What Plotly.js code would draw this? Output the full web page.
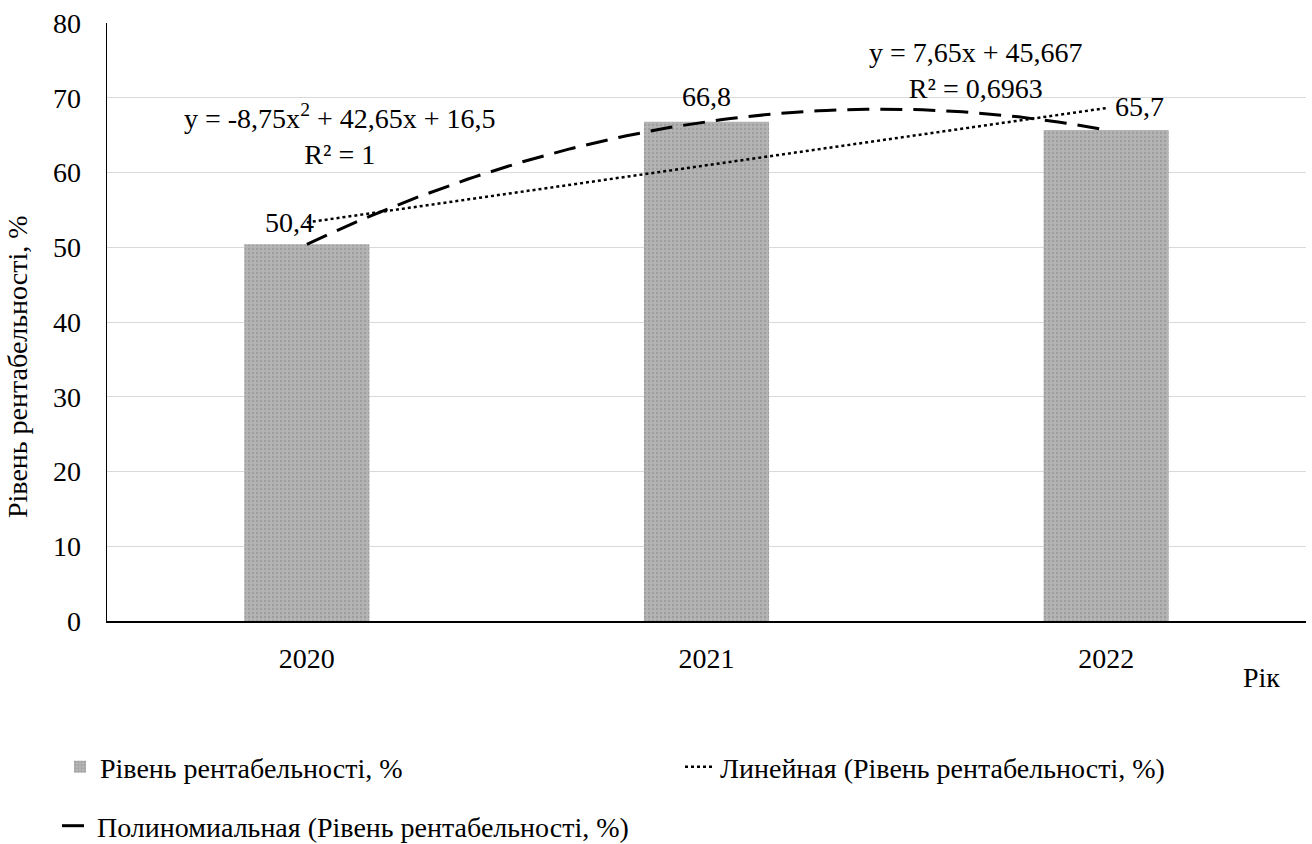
<!DOCTYPE html>
<html>
<head>
<meta charset="utf-8">
<script src="https://cdn.plot.ly/plotly-3.0.1.min.js"></script>
<style>
  html, body { margin: 0; padding: 0; background: #fff; }
  #chart { width: 1312px; height: 844px; }
</style>
</head>
<body>
<div id="chart"></div>
<script>
// Profitability level by year, with linear and polynomial trendlines
const categories = ['2020', '2021', '2022'];
const profitability = [50.4, 66.8, 65.7];

// Trendline coefficients (lowest power first) and R² values
const linearCoef = [45.667, 7.65];
const linearR2 = 0.6963;
const polyCoef = [16.5, 42.65, -8.75];
const polyR2 = 1;

const seriesName = 'Рівень рентабельності, %';
const linearName = 'Линейная (Рівень рентабельності, %)';
const polyName = 'Полиномиальная (Рівень рентабельності, %)';
const yTitle = 'Рівень рентабельності, %';
const xTitle = 'Рік';

const FONT = 'Liberation Serif';
const FS = 28;

// bars sit at category positions 1..n so trendlines share the same x scale
const xPos = categories.map((_, i) => i + 1);

const comma = v => String(v).replace('.', ',');
const evalPoly = (coef, x) => coef.reduce((s, c, k) => s + c * Math.pow(x, k), 0);

// sample the trendline equations across the category span
const trendX = [];
for (let x = xPos[0]; x <= xPos[xPos.length - 1] + 1e-9; x += 0.02) trendX.push(+x.toFixed(4));
const linearY = trendX.map(x => evalPoly(linearCoef, x));
const polyY = trendX.map(x => evalPoly(polyCoef, x));

const signed = v => (v < 0 ? '- ' : '+ ') + comma(Math.abs(v));
const linearEq = 'y = ' + comma(linearCoef[1]) + 'x ' + signed(linearCoef[0]) +
  '<br>R² = ' + comma(linearR2);
const polyEq = 'y = ' + comma(polyCoef[2]) + 'x<sup>2</sup> ' + signed(polyCoef[1]) + 'x ' +
  signed(polyCoef[0]) + '<br>R² = ' + comma(polyR2);

const traces = [
  {
    type: 'bar',
    name: seriesName,
    x: xPos,
    y: profitability,
    width: 0.313,
    marker: {
      color: '#b0b0b0',
      pattern: { shape: '.', fgcolor: '#9c9c9c', bgcolor: '#b4b4b4', size: 4, solidity: 0.25 },
      line: { width: 0 }
    },
    hoverinfo: 'skip',
    legend: 'legend'
  },
  {
    type: 'scatter',
    mode: 'lines',
    name: linearName,
    x: trendX,
    y: linearY,
    line: { color: '#000', width: 2.5, dash: 'dot' },
    hoverinfo: 'skip',
    legend: 'legend2'
  },
  {
    type: 'scatter',
    mode: 'lines',
    name: polyName,
    x: trendX,
    y: polyY,
    line: { color: '#000', width: 3, dash: '22px,11px' },
    hoverinfo: 'skip',
    legend: 'legend3'
  }
];

// data labels with their hand-placed offsets
const labelShift = [[-17, 22], [0, 25], [33, 23]];
const annotations = profitability.map((v, i) => ({
  x: xPos[i], y: v, xref: 'x', yref: 'y',
  text: comma(v), showarrow: false,
  xanchor: 'center', yanchor: 'middle',
  xshift: labelShift[i][0], yshift: labelShift[i][1],
  font: { family: FONT, size: FS, color: '#000' }
}));

annotations.push(
  {
    x: 1.083, y: 65.15, xref: 'x', yref: 'y', text: polyEq, showarrow: false,
    align: 'center', xanchor: 'center', yanchor: 'middle',
    font: { family: FONT, size: FS, color: '#000' }
  },
  {
    x: 2.674, y: 73.6, xref: 'x', yref: 'y', text: linearEq, showarrow: false,
    align: 'center', xanchor: 'center', yanchor: 'middle',
    font: { family: FONT, size: FS, color: '#000' }
  },
  {
    x: 1261 / 1312, y: 1 - 677 / 844, xref: 'paper', yref: 'paper', text: xTitle,
    showarrow: false, xanchor: 'center', yanchor: 'middle',
    font: { family: FONT, size: FS, color: '#000' }
  },
  {
    x: 18 / 1312, y: 1 - 367 / 844, xref: 'paper', yref: 'paper', text: yTitle,
    showarrow: false, textangle: -90, xanchor: 'center', yanchor: 'middle',
    font: { family: FONT, size: FS, color: '#000' }
  }
);

// paper refs above are expressed against the full canvas; convert to plot-area fractions
const M = { l: 107, r: 6, t: 23, b: 223 };
const W = 1312, H = 844;
annotations.forEach(a => {
  if (a.xref === 'paper') {
    const px = a.x * W, py = (1 - a.y) * H;
    a.x = (px - M.l) / (W - M.l - M.r);
    a.y = 1 - (py - M.t) / (H - M.t - M.b);
  }
});

const legendBase = {
  orientation: 'h',
  xref: 'container', yref: 'container',
  xanchor: 'left', yanchor: 'middle',
  bgcolor: 'rgba(0,0,0,0)', borderwidth: 0,
  itemwidth: 30,
  font: { family: FONT, size: FS, color: '#000' }
};

const layout = {
  width: W, height: H,
  margin: M,
  paper_bgcolor: '#fff', plot_bgcolor: '#fff',
  font: { family: FONT, size: FS, color: '#000' },
  barmode: 'overlay',
  showlegend: true,
  xaxis: {
    range: [0.5, 3.5],
    tickvals: xPos, ticktext: categories,
    showgrid: false, zeroline: false,
    showline: true, linecolor: '#000', linewidth: 1.5,
    ticks: '', ticklabelstandoff: 12,
    tickfont: { family: FONT, size: FS, color: '#000' },
    fixedrange: true
  },
  yaxis: {
    range: [0, 80], dtick: 10, tick0: 0,
    showgrid: true, gridcolor: '#d9d9d9', gridwidth: 1,
    zeroline: false,
    showline: true, linecolor: '#000', linewidth: 1.5,
    ticks: '', ticklabelstandoff: 19,
    tickfont: { family: FONT, size: FS, color: '#000' },
    fixedrange: true
  },
  legend: Object.assign({}, legendBase, { x: 60 / W, y: 1 - 767 / H }),
  legend2: Object.assign({}, legendBase, { x: 680 / W, y: 1 - 767 / H }),
  legend3: Object.assign({}, legendBase, { x: 57 / W, y: 1 - 826 / H }),
  annotations: annotations
};

Plotly.newPlot('chart', traces, layout, { displayModeBar: false, staticPlot: true });
</script>
</body>
</html>
